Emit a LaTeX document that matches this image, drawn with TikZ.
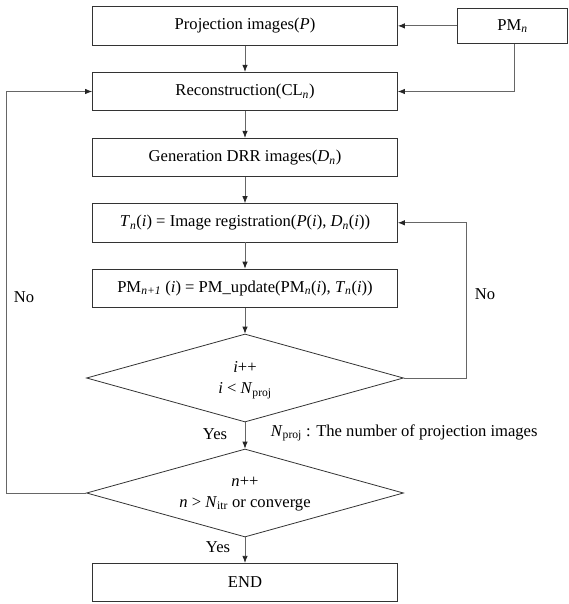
\documentclass[tikz,border=0pt]{standalone}
\usepackage{fontspec}
\setmainfont{Liberation Serif}
\usetikzlibrary{shapes.geometric,arrows.meta}
\newcommand\iv[1]{\textit{#1}}
\newcommand\sbs[1]{\textsubscript{#1}}
\begin{document}
\begin{tikzpicture}[x=1pt,y=-1pt,
  font=\fontsize{16.6}{21}\selectfont,
  box/.style={draw=black!80, line width=0.8pt, minimum width=305pt, minimum height=38.5pt, inner sep=0pt},
  dec/.style={draw=black!80, line width=0.8pt, shape=diamond, minimum width=317pt, minimum height=88pt, aspect=3.6, inner sep=0pt, align=center},
  conn/.style={draw=black!60, line width=0.8pt, -{Latex[length=7pt,width=5.5pt,fill=black!85,color=black!85]}},
  lbl/.style={inner sep=0pt}]
\useasboundingbox (0,0) rectangle (569,604);
\node[box] (proj) at (245,25.9) {Projection images(\iv{P})};
\node[box, minimum width=110pt, minimum height=35pt] (pm) at (512.5,25.9) {PM\sbs{\iv{n}}};
\node[box] (recon) at (245,91.5) {Reconstruction(CL\sbs{\iv{n}})};
\node[box] (gen) at (245,157.5) {Generation DRR images(\iv{D}\sbs{\iv{n}})};
\node[box] (treg) at (245,222.8) {\iv{T}\sbs{\iv{n}}(\iv{i}) = Image registration(\iv{P}(\iv{i}), \iv{D}\sbs{\iv{n}}(\iv{i}))};
\node[box] (pmu) at (245,288.3) {PM\sbs{\iv{n+1}} (\iv{i}) = PM\_update(PM\sbs{\iv{n}}(\iv{i}), \iv{T}\sbs{\iv{n}}(\iv{i}))};
\node[dec] (d1) at (245,378) {};
\node[lbl, align=center] (t1) at (245,380) {\iv{i}++\\\iv{i} < \iv{N}\sbs{proj}};
\node[dec] (d2) at (245,493) {};
\node[lbl, align=center] (t2) at (245,494) {\iv{n}++\\\iv{n} > \iv{N}\sbs{itr} or converge};
\node[box] (end) at (245,582.5) {END};
\node[lbl] (yes1) at (215,434) {Yes};
\node[lbl] (yes2) at (218,546.7) {Yes};
\node[lbl, anchor=west] (note) at (270.7,433) {\iv{N}\sbs{proj} : The number of projection images};
\node[lbl] (no1) at (24,297) {No};
\node[lbl] (no2) at (485,294) {No};
\coordinate (lx) at (6.7,0);
\coordinate (rx) at (466.3,0);
\draw[conn] (pm.west) -- (pm.west -| proj.east);
\draw[conn] ([xshift=2pt]pm.south) |- (recon.east);
\draw[conn] (proj) -- (recon);
\draw[conn] (recon) -- (gen);
\draw[conn] (gen) -- (treg);
\draw[conn] (treg) -- (pmu);
\draw[conn] (pmu) -- (d1);
\draw[conn] (d1) -- (d2);
\draw[conn] (d2) -- (end);
\draw[conn] (d1.east) -- (d1.east -| rx) |- (treg.east);
\draw[conn] (d2.west) -- (d2.west -| lx) |- (recon.west);
\end{tikzpicture}
\end{document}
